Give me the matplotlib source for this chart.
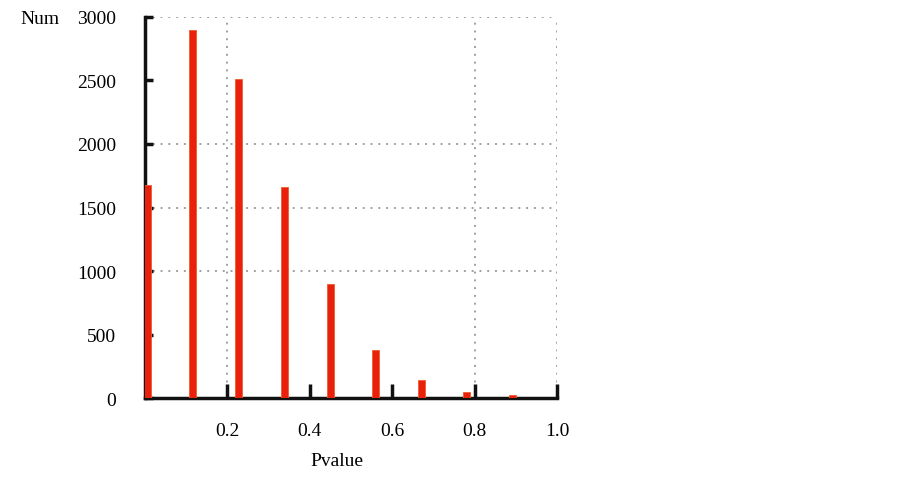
import numpy as np
import matplotlib.pyplot as plt

# Data
pvalue = [0.006, 0.116, 0.227, 0.339, 0.449, 0.559, 0.671, 0.780, 0.893]
num = [1680, 2900, 2510, 1660, 900, 380, 145, 45, 20]
x_ticks = [0.2, 0.4, 0.6, 0.8, 1.0]
x_tick_labels = ['0.2', '0.4', '0.6', '0.8', '1.0']
y_ticks = [0, 500, 1000, 1500, 2000, 2500, 3000]

plt.rcParams['font.family'] = ['Liberation Serif', 'DejaVu Serif']

fig = plt.figure(figsize=(9.03, 4.85), dpi=100)
ax = fig.add_axes([0.1606, 0.1773, 0.4563, 0.7856])

# Dotted grid, only where the reference shows it
for yv in [1000, 1500, 2000, 3000]:
	ax.axhline(yv, color='#a0a0a0', linestyle=(0, (1, 3)), linewidth=1.4, zorder=0)
for xv in [0.2, 0.8, 1.0]:
	ax.axvline(xv, color='#a0a0a0', linestyle=(0, (1, 3)), linewidth=1.4, zorder=0)

ax.bar(pvalue, num, width=0.017, color='#e8200c', edgecolor='#f05a2a', linewidth=0.6, zorder=3)

ax.set_xlim(0, 1.0)
ax.set_ylim(0, 3000)

ax.set_xticks(x_ticks)
ax.set_xticklabels(x_tick_labels)
ax.set_yticks(y_ticks)

ax.tick_params(axis='x', direction='in', length=10, width=2.5, color='#111111', labelsize=14, pad=17)
ax.tick_params(axis='y', direction='in', length=6, width=2.5, color='#111111', labelsize=14, pad=21)

for side in ['top', 'right']:
	ax.spines[side].set_visible(False)
for side in ['left', 'bottom']:
	ax.spines[side].set_linewidth(2.5)
	ax.spines[side].set_color('#111111')

fig.text(40 / 903, 1 - 19 / 485, 'Num', fontsize=14, ha='center', va='center')
fig.text(337 / 903, 1 - 462 / 485, 'Pvalue', fontsize=14, ha='center', va='center')

plt.savefig('out.png', dpi=100)
plt.close()
